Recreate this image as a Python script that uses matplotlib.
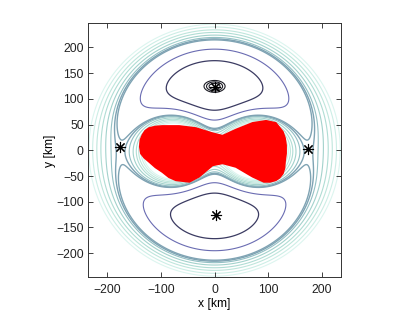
import numpy as np
import matplotlib
matplotlib.use("Agg")
import matplotlib.pyplot as plt

plt.rcParams['font.family'] = ['Liberation Sans', 'DejaVu Sans']

# --- model of the rotating body (two mass concentrations) ---
mass_x = [-74.0, 74.0]
mass_y = [-1.5, -1.5]
mass_m = [0.5, 0.5]
omega2 = 3.2624e-7

# contour levels and their colours
levels = [0.009385, 0.0094, 0.00942, 0.0102, 0.01104, 0.0119, 0.0120,
          0.01215, 0.0124, 0.0127, 0.0130, 0.01335, 0.0137]
level_colors = ['#1c1c24', '#1c1c24', '#1c1c24', '#3b3b62', '#6a6cb2',
                '#7fa3b3', '#7fa3b3', '#93c0c4', '#a3d2cc', '#b0ddd4',
                '#bfe6dc', '#cdeee6', '#dcf5ef']
level_widths = [0.8, 0.8, 0.8, 0.9, 0.8, 1.0, 1.0, 0.8, 0.8, 0.8, 0.8, 0.8, 0.8]

# body outline (km)
body_x = [-139, -138, -134, -129, -122, -110, -97, -66, -35, -4, 15, 40, 71,
          96, 114, 127, 131, 133, 133, 131, 130, 127, 121, 114, 103, 92, 71,
          40, 15, -4, -29, -47, -72, -85, -97, -110, -122, -131, -137]
body_y = [7, 20, 30, 38, 43, 46, 47, 47, 43, 33, 28, 40, 53,
          57, 53, 36, 24, 10, -6, -22, -35, -45, -53, -58, -61, -61, -51,
          -32, -25, -29, -51, -61, -58, -52, -42, -33, -22, -14, -6]

# equilibrium points (km)
eq_x = [0, 3, -176, 175]
eq_y = [124, -125, 6, 3]

x = np.linspace(-240, 240, 961)
y = np.linspace(-250, 250, 1001)
X, Y = np.meshgrid(x, y)
Om = 0.5 * omega2 * (X**2 + Y**2)
for mx, my, mm in zip(mass_x, mass_y, mass_m):
    Om += mm / np.sqrt((X - mx)**2 + (Y - my)**2 + 1e-6)

fig = plt.figure(figsize=(4.15, 3.13), dpi=100)
ax = fig.add_axes([0.212, 0.114, 0.610, 0.8115])

ax.contour(X, Y, Om, levels=levels, colors=level_colors,
           linewidths=level_widths, zorder=1)
ax.fill(body_x, body_y, color='#ff0000', ec='#ff0000', lw=1.5,
        joinstyle='round', zorder=2)
ax.plot(eq_x, eq_y, linestyle='none', marker=(8, 2, 0), color='black',
        markersize=8, markeredgewidth=0.8, zorder=3)

ax.set_xlim(-236, 236)
ax.set_ylim(-247, 247)
ax.set_xticks([-200, -100, 0, 100, 200])
ax.set_yticks([-200, -150, -100, -50, 0, 50, 100, 150, 200])
ax.tick_params(direction='in', length=3.5, width=0.6, top=True, right=True,
               labelsize=8.7, colors='#222222')
ax.tick_params(axis='x', pad=5)
ax.tick_params(axis='y', pad=3)
for s in ax.spines.values():
    s.set_linewidth(0.7)
    s.set_color('#333333')
ax.set_xlabel('x [km]', fontsize=8.7, labelpad=1)
ax.set_ylabel('y [km]', fontsize=8.7, labelpad=0)

fig.savefig("out.png")
